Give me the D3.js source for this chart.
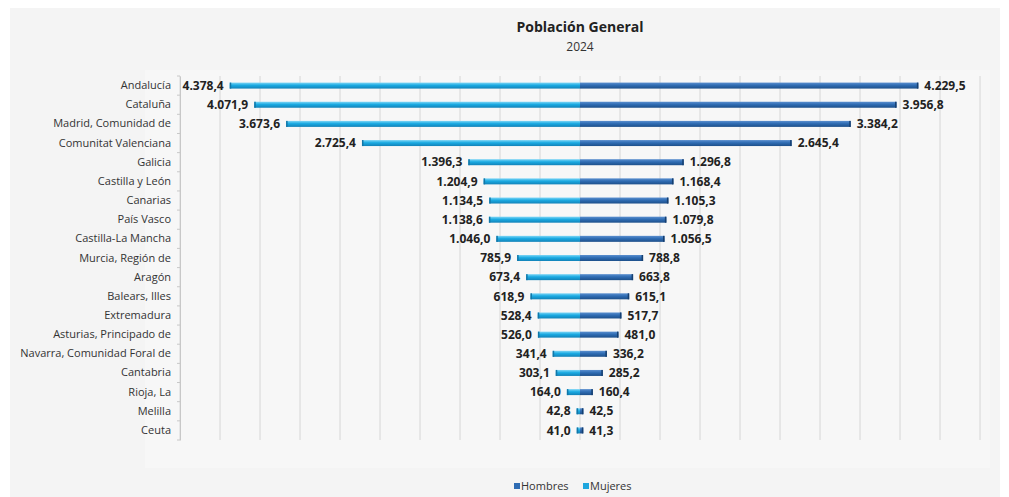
<!DOCTYPE html>
<html>
<head>
<meta charset="utf-8">
<script src="https://cdn.jsdelivr.net/npm/d3@7"></script>
<style>
  body { margin: 0; background: #ffffff; }
  text { font-family: "Open Sans", "Noto Sans", sans-serif; }
</style>
</head>
<body>
<div class="canvas"></div>
<script>
// data
const regiones = ["Andalucía", "Cataluña", "Madrid, Comunidad de", "Comunitat Valenciana", "Galicia",
  "Castilla y León", "Canarias", "País Vasco", "Castilla-La Mancha", "Murcia, Región de", "Aragón",
  "Balears, Illes", "Extremadura", "Asturias, Principado de", "Navarra, Comunidad Foral de",
  "Cantabria", "Rioja, La", "Melilla", "Ceuta"];
const mujeres = [4378.4, 4071.9, 3673.6, 2725.4, 1396.3, 1204.9, 1134.5, 1138.6, 1046.0, 785.9,
  673.4, 618.9, 528.4, 526.0, 341.4, 303.1, 164.0, 42.8, 41.0];
const hombres = [4229.5, 3956.8, 3384.2, 2645.4, 1296.8, 1168.4, 1105.3, 1079.8, 1056.5, 788.8,
  663.8, 615.1, 517.7, 481.0, 336.2, 285.2, 160.4, 42.5, 41.3];
const gridTicks = d3.range(-5000, 5001, 500);

const w = 1009;
const h = 497;

const es = d3.formatLocale({ decimal: ",", thousands: ".", grouping: [3], currency: ["", " €"] });
const fmt = es.format(",.1f");

const svg = d3.select(".canvas").append("svg").attr("width", w).attr("height", h);

// background panels
svg.append("rect").attr("x", 10).attr("y", 8).attr("width", 990).attr("height", 489).attr("fill", "#f4f4f4");
svg.append("rect").attr("x", 145).attr("y", 70).attr("width", 845).attr("height", 398).attr("fill", "#f7f7f7");

const defs = svg.append("defs");
const grad = (id, c1, c2, c3) => {
  const g = defs.append("linearGradient").attr("id", id).attr("x1", 0).attr("y1", 0).attr("x2", 0).attr("y2", 1);
  g.append("stop").attr("offset", "0%").attr("stop-color", c1);
  g.append("stop").attr("offset", "45%").attr("stop-color", c2);
  g.append("stop").attr("offset", "100%").attr("stop-color", c3);
};
grad("gM", "#7fd6f6", "#1aaae2", "#1282b8");
grad("gH", "#5b8fcf", "#2f6cb3", "#1d4f8a");

const x = d3.scaleLinear([-5000, 5000], [180, 980]);
const y = d3.scaleBand(regiones, [76, 440]);

// gridlines
svg.append("g").selectAll("line").data(gridTicks).join("line")
  .attr("x1", d => x(d)).attr("x2", d => x(d))
  .attr("y1", 76).attr("y2", 440)
  .attr("stroke", "#d6d6d6").attr("stroke-width", 1);

// left axis
const yAxis = d3.axisLeft(y).tickSize(0).tickPadding(9);
const ax = svg.append("g").attr("transform", "translate(180,0)").call(yAxis);
ax.select(".domain").attr("stroke", "#c8c8c8");
ax.selectAll("text").attr("font-size", 11).attr("fill", "#333").attr("dy", "0.32em");
ax.selectAll(".sep").data(d3.range(regiones.length + 1)).join("line").attr("class", "sep")
  .attr("x1", -3).attr("x2", 0)
  .attr("y1", i => 76 + i * y.step()).attr("y2", i => 76 + i * y.step())
  .attr("stroke", "#c8c8c8");

const bh = 6;
const rows = regiones.map((r, i) => ({ r, m: mujeres[i], h: hombres[i] }));

const gM = svg.append("g");
gM.selectAll("rect").data(rows).join("rect")
  .attr("x", d => x(-d.m)).attr("width", d => x(0) - x(-d.m))
  .attr("y", d => y(d.r) + y.bandwidth() / 2 - bh / 2).attr("height", bh)
  .attr("fill", "url(#gM)");
gM.selectAll(".cap").data(rows).join("rect").attr("class", "cap")
  .attr("x", d => x(-d.m)).attr("width", 1.5)
  .attr("y", d => y(d.r) + y.bandwidth() / 2 - bh / 2).attr("height", bh)
  .attr("fill", "#1277a8");

const gH = svg.append("g");
gH.selectAll("rect").data(rows).join("rect")
  .attr("x", x(0)).attr("width", d => x(d.h) - x(0))
  .attr("y", d => y(d.r) + y.bandwidth() / 2 - bh / 2).attr("height", bh)
  .attr("fill", "url(#gH)");
gH.selectAll(".cap").data(rows).join("rect").attr("class", "cap")
  .attr("x", d => x(d.h) - 1.5).attr("width", 1.5)
  .attr("y", d => y(d.r) + y.bandwidth() / 2 - bh / 2).attr("height", bh)
  .attr("fill", "#163f70");

// value labels
svg.append("g").selectAll("text").data(rows).join("text")
  .attr("x", d => x(-d.m) - 6).attr("y", d => y(d.r) + y.bandwidth() / 2)
  .attr("dy", "0.35em").attr("text-anchor", "end")
  .attr("font-size", 12).attr("font-weight", "bold").attr("fill", "#222")
  .text(d => fmt(d.m));
svg.append("g").selectAll("text").data(rows).join("text")
  .attr("x", d => x(d.h) + 6).attr("y", d => y(d.r) + y.bandwidth() / 2)
  .attr("dy", "0.35em").attr("text-anchor", "start")
  .attr("font-size", 12).attr("font-weight", "bold").attr("fill", "#222")
  .text(d => fmt(d.h));

// titles
svg.append("text").attr("x", 580).attr("y", 32).attr("text-anchor", "middle")
  .attr("font-size", 14).attr("font-weight", "bold").attr("fill", "#222").text("Población General");
svg.append("text").attr("x", 580).attr("y", 51).attr("text-anchor", "middle")
  .attr("font-size", 12).attr("fill", "#333").text("2024");

// legend
const legend = [{ t: "Hombres", c: "#2f6cb3" }, { t: "Mujeres", c: "#1ea6de" }];
const lg = svg.append("g").attr("transform", "translate(514,487)");
const li = lg.selectAll("g").data(legend).join("g").attr("transform", (d, i) => `translate(${i * 69},0)`);
li.append("rect").attr("x", 0).attr("y", -4).attr("width", 6).attr("height", 6).attr("fill", d => d.c);
li.append("text").attr("x", 7).attr("y", 0).attr("dy", "0.3em").attr("font-size", 11).attr("fill", "#333").text(d => d.t);
</script>
</body>
</html>
